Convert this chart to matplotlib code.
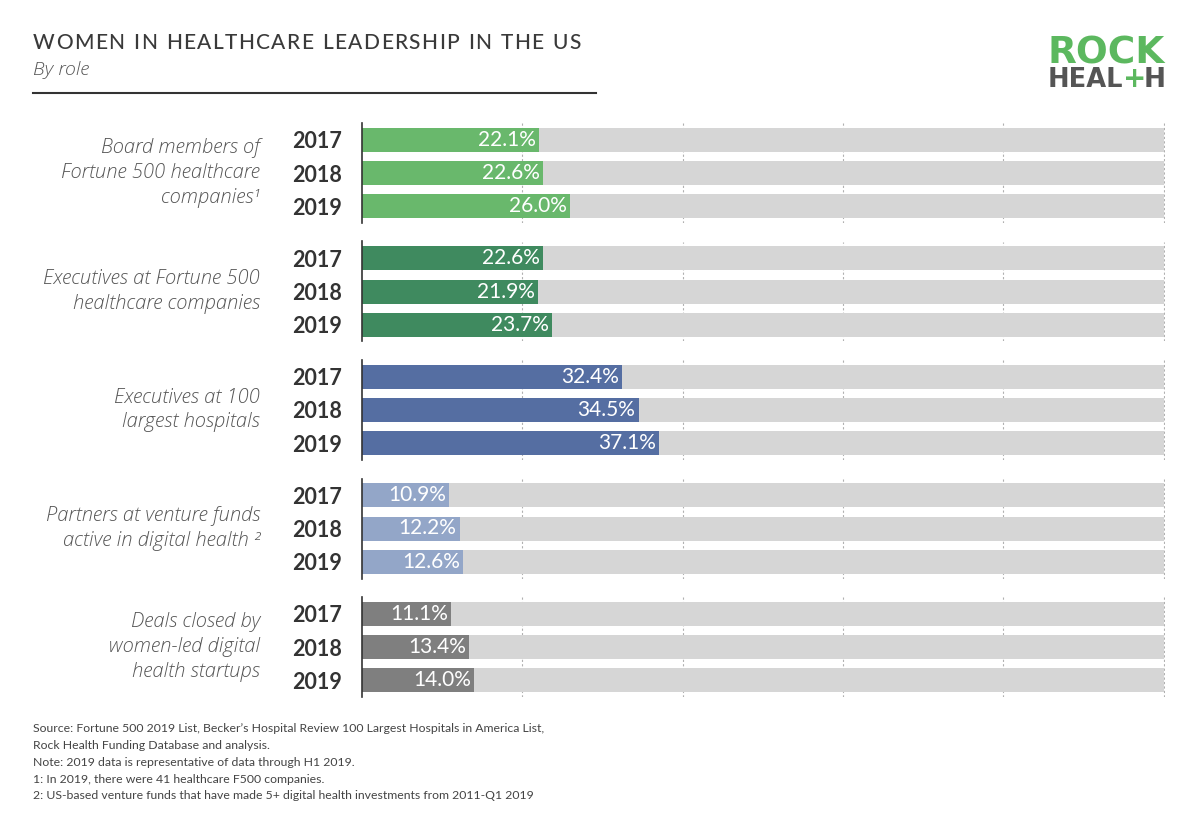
import matplotlib.pyplot as plt

plt.rcParams['font.family'] = ['Lato', 'DejaVu Sans']

years = ["2017", "2018", "2019"]
roles = [
    "Board members of\nFortune 500 healthcare\ncompanies\u00b9",
    "Executives at Fortune 500\nhealthcare companies",
    "Executives at 100\nlargest hospitals",
    "Partners at venture funds\nactive in digital health \u00b2",
    "Deals closed by\nwomen-led digital\nhealth startups",
]
board_f500 = [22.1, 22.6, 26.0]
exec_f500 = [22.6, 21.9, 23.7]
exec_hospitals = [32.4, 34.5, 37.1]
vc_partners = [10.9, 12.2, 12.6]
women_led_deals = [11.1, 13.4, 14.0]
values = [board_f500, exec_f500, exec_hospitals, vc_partners, women_led_deals]
colors = ["#69b86c", "#3f8a5f", "#556ea2", "#93a6c8", "#7f7f7f"]

footnotes = [
    "Source: Fortune 500 2019 List, Becker\u2019s Hospital Review 100 Largest Hospitals in America List,",
    "Rock Health Funding Database and analysis.",
    "Note: 2019 data is representative of data through H1 2019.",
    "1: In 2019, there were 41 healthcare F500 companies.",
    "2: US-based venture funds that have made 5+ digital health investments from 2011-Q1 2019",
]

W, H = 1200, 832
fig = plt.figure(figsize=(W / 100, H / 100), dpi=100)
renderer = fig.canvas.get_renderer()


def spaced_text(x_px, y_px, s, spacing, **kw):
    # matplotlib has no letter spacing, so place the letters one by one
    x = x_px
    for ch in s:
        t = fig.text(x / W, 1 - y_px / H, ch, ha='left', va='center', **kw)
        if ch == ' ':
            t2 = fig.text(0, 0, 'n', **kw)
            w = t2.get_window_extent(renderer).width * 0.55
            t2.remove()
        else:
            w = t.get_window_extent(renderer).width
        x += w + spacing


# title block
spaced_text(33, 43, "WOMEN IN HEALTHCARE LEADERSHIP IN THE US", 1.35, fontsize=15,
            fontweight='medium', color='#3a3a3a')
fig.text(33 / W, 1 - 70 / H, "By role", fontsize=14, style='italic', color='#555555',
         va='center', ha='left', family=['Open Sans', 'DejaVu Sans'], fontweight='light')
fig.add_artist(plt.Line2D([33 / W, 596 / W], [1 - 93 / H, 1 - 93 / H], color='#333333', lw=1.5))

# logo
fig.text(1165 / W, 1 - 64 / H, "ROCK", fontsize=27, fontweight='heavy', color='#5cb85f',
         ha='right', va='baseline', family='DejaVu Sans')
fig.text(1166 / W, 1 - 87 / H, "H", fontsize=19, fontweight='heavy', color='#555555',
         ha='right', va='baseline', family='DejaVu Sans')
fig.text(1135 / W, 1 - 87 / H, "+", fontsize=20, fontweight='heavy', color='#5cb85f',
         ha='center', va='baseline', family='DejaVu Sans')
fig.text(1123 / W, 1 - 87 / H, "HEAL", fontsize=18.5, fontweight='heavy', color='#555555',
         ha='right', va='baseline', family='DejaVu Sans')

left, right = 362, 1165
first_center, step, ax_h = 173, 118.5, 100
for g, (role, vals, col) in enumerate(zip(roles, values, colors)):
    c = first_center + g * step
    ax = fig.add_axes([left / W, (H - (c + ax_h / 2)) / H, (right - left) / W, ax_h / H])
    pos = list(range(len(years)))
    ax.barh(pos, [100] * len(pos), height=0.72, color='#d6d6d6', zorder=1)
    ax.barh(pos, vals, height=0.72, color=col, zorder=2)
    for p, v in zip(pos, vals):
        ax.text(v - 0.4, p, f"{v:.1f}%", ha='right', va='center', color='white',
                fontsize=15, zorder=3)
    ax.set_xlim(0, 100.15)
    ax.set_ylim(2.5, -0.5)
    ax.set_xticks([20, 40, 60, 80, 100])
    ax.set_xticklabels([])
    ax.tick_params(axis='x', length=0)
    ax.grid(axis='x', linestyle=(0, (2, 2)), color='#b0b0b0', lw=0.8, zorder=0)
    ax.set_axisbelow(True)
    ax.set_yticks(pos)
    ax.set_yticklabels(years, fontsize=15.5, fontweight='bold', color='#333333')
    ax.tick_params(axis='y', length=0, pad=14.5)
    for s in ['top', 'right', 'bottom']:
        ax.spines[s].set_visible(False)
    ax.spines['left'].set_color('#333333')
    ax.spines['left'].set_linewidth(1.2)
    fig.text(260 / W, 1 - c / H, role, ha='right', va='center', fontsize=14.5, style='italic',
             color='#555555', linespacing=1.3, family=['Open Sans', 'DejaVu Sans'],
             fontweight='light')

for i, line in enumerate(footnotes):
    fig.text(33 / W, 1 - (729 + i * 16.7) / H, line, fontsize=8.8, color='#444444',
             ha='left', va='center')

fig.savefig("out.png", dpi=100)
